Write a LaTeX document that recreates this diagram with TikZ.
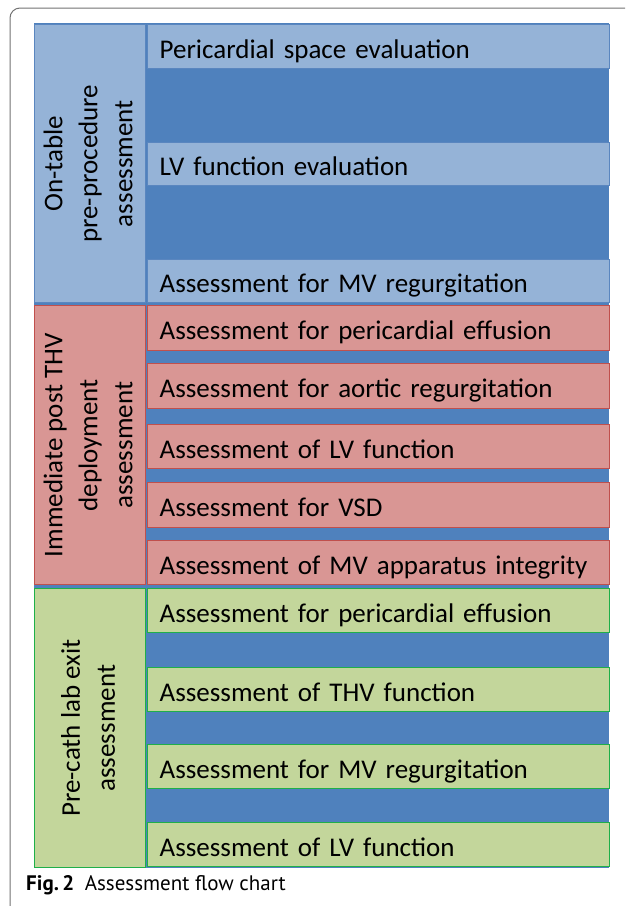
\documentclass[tikz,border=0pt]{standalone}
\usepackage{fontspec}
\setmainfont{Carlito}
\newfontfamily\capfont{PT Sans}
\definecolor{lblue}{HTML}{95B3D7}
\definecolor{dblue}{HTML}{4F81BD}
\definecolor{bblue}{HTML}{5A86BF}
\definecolor{rfill}{HTML}{D99694}
\definecolor{rline}{HTML}{C0504D}
\definecolor{gfill}{HTML}{C3D69B}
\definecolor{gline}{HTML}{1FAF4A}
\tikzset{
  rowbox/.style={rectangle, anchor=north west, inner sep=0pt, inner xsep=12pt,
    line width=1.4pt, minimum width=462pt, text width=438pt, align=left,
    text height=26pt, text depth=3pt,
    font=\fontsize{27}{32}\selectfont},
  lblbox/.style={rectangle, anchor=north west, inner sep=0pt, line width=1.4pt,
    minimum width=111pt},
  lbltext/.style={rotate=90, align=center, font=\fontsize{27}{35}\selectfont},
  bluebox/.style={fill=lblue, draw=bblue},
  redbox/.style={fill=rfill, draw=rline},
  greenbox/.style={fill=gfill, draw=gline},
}
\newcommand\mkrow[5]{\node[rowbox,#4, minimum height=#3pt-#2pt] (#1) at (147,#2) {#5};}
\begin{document}
\begin{tikzpicture}[x=1pt,y=-1pt]
\useasboundingbox (0,0) rectangle (625,906);
\clip (0,0) rectangle (625,906);
\fill[white] (0,0) rectangle (625,906);
% outer frame
\draw[line width=1pt, draw=black!55, rounded corners=10pt] (10,8) rectangle (660,940);
% background
\fill[dblue] (34,23) rectangle (609,868);
% section 1
\node[lblbox,bluebox,minimum height=278pt] (L1) at (34,24) {};
\node[lbltext] (L1t) at ([xshift=-2pt]L1.center) {On-table\\pre-procedure\\assessment};
\mkrow{a1}{24}{68}{bluebox}{Pericardial space evaluation}
\mkrow{a2}{142}{185}{bluebox}{LV function evaluation}
\mkrow{a3}{259}{302}{bluebox}{Assessment for MV regurgitation}
% section 2
\node[lblbox,redbox,minimum height=279pt] (L2) at (34,305) {};
\node[lbltext] (L2t) at ([xshift=-2pt]L2.center) {Immediate post THV\\deployment\\assessment};
\mkrow{b1}{305}{350}{redbox}{Assessment for pericardial effusion}
\mkrow{b2}{363}{408}{redbox}{Assessment for aortic regurgitation}
\mkrow{b3}{424}{468}{redbox}{Assessment of LV function}
\mkrow{b4}{482}{527}{redbox}{Assessment for VSD}
\mkrow{b5}{540}{584}{redbox}{Assessment of MV apparatus integrity}
% section 3
\node[lblbox,greenbox,minimum height=279pt] (L3) at (34,588) {};
\node[lbltext] (L3t) at ([xshift=-2pt]L3.center) {Pre-cath lab exit\\assessment};
\mkrow{c1}{588}{632}{greenbox}{Assessment for pericardial effusion}
\mkrow{c2}{667}{711}{greenbox}{Assessment of THV function}
\mkrow{c3}{744}{788}{greenbox}{Assessment for MV regurgitation}
\mkrow{c4}{822}{866}{greenbox}{Assessment of LV function}
% caption
\node[anchor=west, inner sep=0pt, font=\capfont\fontsize{21}{24}\selectfont] (cap) at (26,885) {\textbf{Fig.\,2}\enspace Assessment flow chart};
\end{tikzpicture}
\end{document}
